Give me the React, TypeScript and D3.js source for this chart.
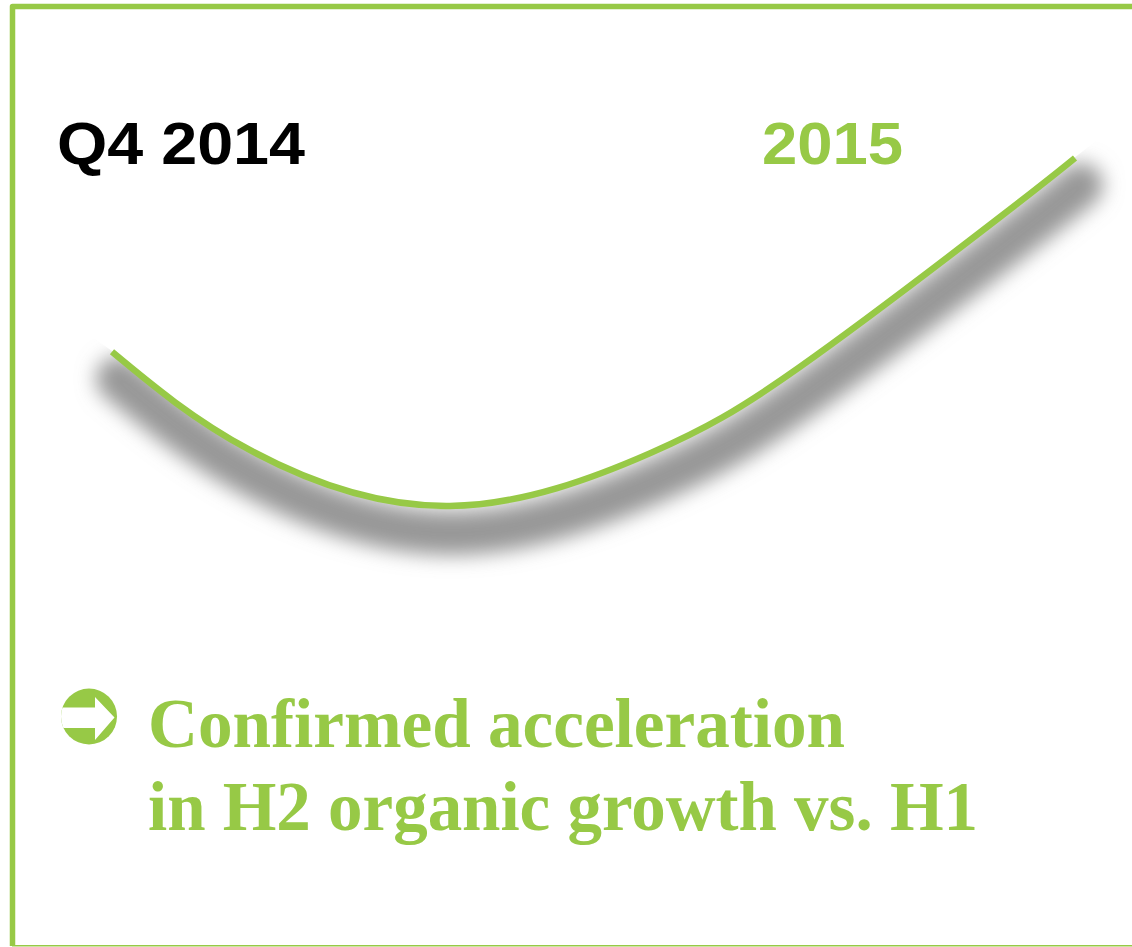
import React from 'react';
import * as d3 from 'd3';

// growth trend (arbitrary units, 0..100)
const periods = [0, 14.3, 35.1, 55.9, 71.4, 92.2, 100];
const growth = [44.3, 16.1, 0, 15.2, 39.9, 83.0, 100];

const periodLabels = ['Q4 2014', '2015'];
const messageLines = ['Confirmed acceleration', 'in H2 organic growth vs. H1'];

const W = 1132;
const H = 947;
const green = '#97c946';

const App = () => {
  const x = d3.scaleLinear().domain([0, 100]).range([112, 1075]);
  const y = d3.scaleLinear().domain([0, 100]).range([506, 158]);

  const pts: [number, number][] = periods.map((p, i) => [x(p), y(growth[i])]);
  const first = pts[0];
  const last = pts[pts.length - 1];

  const line = d3.line().curve(d3.curveNatural);
  const path = line(pts) || '';

  // only let the shadow show under the curve (plus tangent extensions past the ends)
  const below = d3
    .area()
    .curve(d3.curveNatural)
    .y0(H)
    .y1((d) => d[1]);
  const clip = below(pts) || '';
  const poly = d3.line();
  const leftEnd = poly([
    [first[0] + 1, first[1]],
    [first[0] - 120, first[1] - 120 * 0.72],
    [first[0] - 120, H],
    [first[0] + 1, H],
  ]) + 'Z';
  const rightEnd = poly([
    [last[0] - 1, last[1]],
    [last[0] + 120, last[1] - 120 * 0.78],
    [last[0] + 120, H],
    [last[0] - 1, H],
  ]) + 'Z';

  return (
    <svg width={W} height={H} style={{ position: 'absolute', left: 0, top: 0 }}>
      <defs>
        <filter id="blur" x="-20%" y="-50%" width="140%" height="200%">
          <feGaussianBlur stdDeviation="10" />
        </filter>
        <clipPath id="under">
          <path d={clip} />
          <path d={leftEnd} />
          <path d={rightEnd} />
        </clipPath>
        <clipPath id="disc">
          <circle cx={89} cy={716.5} r={28} />
        </clipPath>
      </defs>

      <rect width={W} height={H} fill="#fff" />

      {/* frame */}
      <path d={`M12.5,946 L12.5,6.5 L${W},6.5`} fill="none" stroke={green} strokeWidth={5.5} strokeLinejoin="round" />
      <line x1={12} x2={W} y1={945.8} y2={945.8} stroke={green} strokeWidth={1.6} />

      {/* shadow */}
      <g clipPath="url(#under)">
        <path
          d={path}
          transform="translate(6,27)"
          fill="none"
          stroke="#979797"
          strokeWidth={44}
          strokeLinecap="round"
          filter="url(#blur)"
        />
      </g>

      <path d={path} fill="none" stroke={green} strokeWidth={6.5} />

      <text
        x={57}
        y={164}
        fontFamily="Liberation Sans, Arial, sans-serif"
        fontWeight="bold"
        fontSize={60}
        fill="#000"
        textLength={248}
        lengthAdjust="spacingAndGlyphs"
      >
        {periodLabels[0]}
      </text>
      <text
        x={762}
        y={164}
        fontFamily="Liberation Sans, Arial, sans-serif"
        fontWeight="bold"
        fontSize={60}
        fill={green}
        textLength={141}
        lengthAdjust="spacingAndGlyphs"
      >
        {periodLabels[1]}
      </text>

      {/* arrow bullet */}
      <circle cx={89} cy={716.5} r={28} fill={green} />
      <path
        clipPath="url(#disc)"
        d="M55,707.5 L95,707.5 L95,697 L114.5,717.5 L95,740 L95,728 L55,728 Z"
        fill="#fff"
      />

      {messageLines.map((t, i) => (
        <text
          key={t}
          x={148}
          y={747 + i * 83}
          fontFamily="Liberation Serif, 'Times New Roman', serif"
          fontWeight="bold"
          fontSize={70}
          fill={green}
          textLength={i === 0 ? 697 : 830}
          lengthAdjust="spacingAndGlyphs"
        >
          {t}
        </text>
      ))}
    </svg>
  );
};

export default App;
